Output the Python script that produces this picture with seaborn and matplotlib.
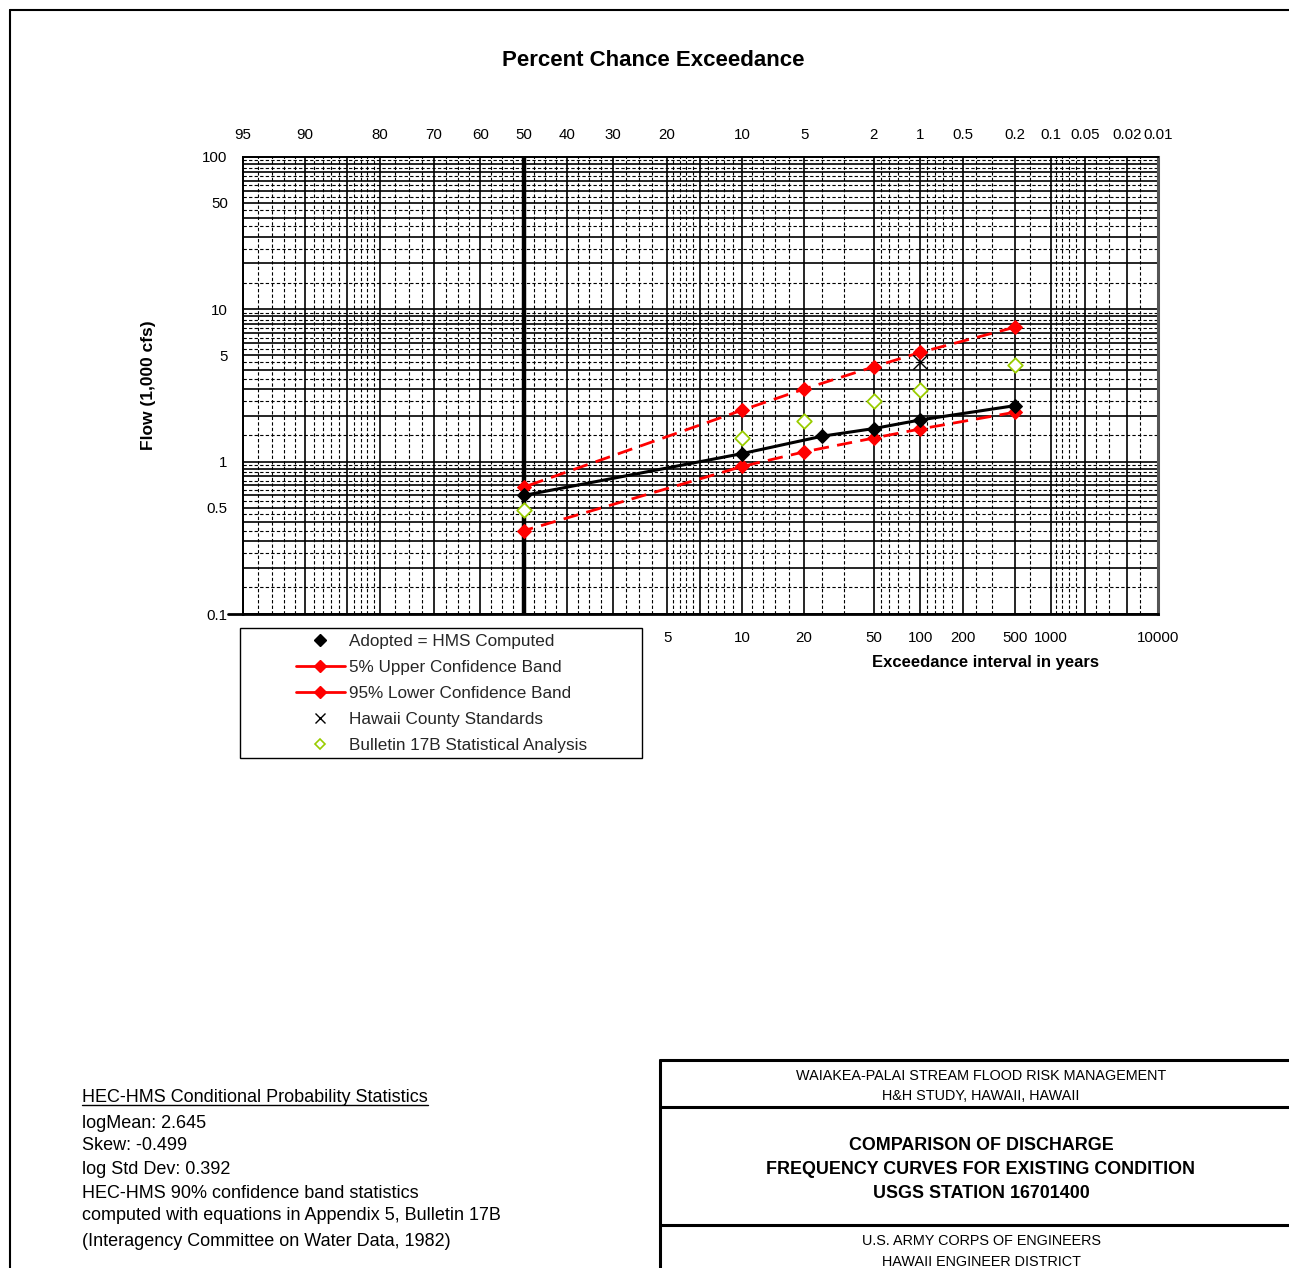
import numpy as np
import pandas as pd
import matplotlib
matplotlib.use("Agg")
import matplotlib.pyplot as plt
from matplotlib.lines import Line2D
from matplotlib.patches import Rectangle
import seaborn as sns
from statistics import NormalDist

# ---------------- data (percent chance exceedance, flow in 1,000 cfs) ----------------
adopted_pct = [50, 10, 4, 2, 1, 0.2]
adopted_flow = [0.60, 1.13, 1.47, 1.65, 1.88, 2.33]

upper_pct = [50, 10, 5, 2, 1, 0.2]
upper_flow = [0.68, 2.18, 3.00, 4.20, 5.22, 7.62]

lower_pct = [50, 10, 5, 2, 1, 0.2]
lower_flow = [0.352, 0.93, 1.16, 1.43, 1.64, 2.11]

hawaii_pct = [1]
hawaii_flow = [4.49]

b17_pct = [50, 10, 5, 2, 1, 0.2]
b17_flow = [0.482, 1.42, 1.86, 2.49, 2.96, 4.33]

top_ticks = [95, 90, 80, 70, 60, 50, 40, 30, 20, 10, 5, 2, 1, 0.5, 0.2, 0.1, 0.05, 0.02, 0.01]
top_labels = ["95", "90", "80", "70", "60", "50", "40", "30", "20", "10", "5", "2", "1",
              "0.5", "0.2", "0.1", "0.05", "0.02", "0.01"]
return_periods = [5, 10, 20, 50, 100, 200, 500, 1000, 10000]
y_ticks = [0.1, 0.5, 1, 5, 10, 50, 100]
y_labels = ["0.1", "0.5", "1", "5", "10", "50", "100"]

solid_grid_pct = [95, 90, 85, 80, 70, 60, 50, 40, 30, 20, 15, 10, 5, 2, 1, 0.5, 0.2, 0.1,
                  0.05, 0.02, 0.01]
dashed_grid_pct = [94, 93, 92, 91, 89, 88, 87, 86, 84, 83, 82, 81, 77.5, 75, 72.5, 67.5, 65,
                   62.5, 57.5, 55, 52.5, 47.5, 45, 42.5, 37.5, 35, 32.5, 27.5, 25, 22.5,
                   19, 18, 17, 16, 14, 13, 12, 11, 9, 8, 7, 6, 4, 3, 1.8, 1.6, 1.4, 1.2,
                   0.9, 0.8, 0.7, 0.6, 0.4, 0.3, 0.15, 0.09, 0.08, 0.07, 0.06, 0.04, 0.03,
                   0.015]

legend_labels = ["Adopted = HMS Computed", "5% Upper Confidence Band",
                 "95% Lower Confidence Band", "Hawaii County Standards",
                 "Bulletin 17B Statistical Analysis"]

stats_lines = ["logMean: 2.645", "Skew: -0.499", "log Std Dev: 0.392",
               "HEC-HMS 90% confidence band statistics",
               "computed with equations in Appendix 5, Bulletin 17B",
               "(Interagency Committee on Water Data, 1982)"]

# ---------------- style ----------------
sns.set_theme(style="white")
plt.rcParams["font.family"] = ["Liberation Sans", "DejaVu Sans"]

W, H = 1289, 1268
fig = plt.figure(figsize=(W / 100, H / 100), dpi=100)
fig.patch.set_facecolor("white")

ax = fig.add_axes([243 / W, 1 - 614 / H, 915 / W, 457 / H])

RED = "#FF0000"
GREEN = "#99CC00"

# ---------------- data series (drawn with seaborn) ----------------
df_ad = pd.DataFrame({"p": adopted_pct, "q": adopted_flow})
df_up = pd.DataFrame({"p": upper_pct, "q": upper_flow})
df_lo = pd.DataFrame({"p": lower_pct, "q": lower_flow})
df_hi = pd.DataFrame({"p": hawaii_pct, "q": hawaii_flow})
df_b17 = pd.DataFrame({"p": b17_pct, "q": b17_flow})

sns.lineplot(data=df_up, x="p", y="q", ax=ax, color=RED, lw=2.0,
             linestyle=(0, (5.5, 3)), marker="D", markersize=7, mec=RED, mfc=RED,
             zorder=5, legend=False)
sns.lineplot(data=df_lo, x="p", y="q", ax=ax, color=RED, lw=2.0,
             linestyle=(0, (5.5, 3)), marker="D", markersize=7, mec=RED, mfc=RED,
             zorder=5, legend=False)
sns.lineplot(data=df_ad, x="p", y="q", ax=ax, color="black", lw=2.2,
             marker="D", markersize=7, mec="black", mfc="black", zorder=6, legend=False)
sns.scatterplot(data=df_hi, x="p", y="q", ax=ax, color="black", marker="x", s=110,
                linewidth=1.0, zorder=7, legend=False)
sns.scatterplot(data=df_b17, x="p", y="q", ax=ax, marker="D", s=55, facecolor="white",
                edgecolor=GREEN, linewidth=1.3, zorder=7, legend=False)

# ---------------- scales ----------------
_nd = NormalDist()
_vinv = np.vectorize(_nd.inv_cdf, otypes=[float])
_vcdf = np.vectorize(_nd.cdf, otypes=[float])


def prob_fwd(p):
    p = np.asarray(p, dtype=float)
    q = np.clip(p / 100.0, 1e-12, 1 - 1e-12)
    return _vinv(q)


def prob_inv(z):
    z = np.asarray(z, dtype=float)
    return _vcdf(z) * 100.0


ax.set_xscale("function", functions=(prob_fwd, prob_inv))
ax.set_yscale("log")
ax.set_xlim(95, 0.01)
ax.set_ylim(0.1, 100)

# ---------------- grid ----------------
for p in dashed_grid_pct:
    ax.axvline(p, color="black", lw=0.8, ls=(0, (3, 2)), zorder=1)
for p in solid_grid_pct:
    ax.axvline(p, color="black", lw=3.2 if p == 50 else 1.2, zorder=2 if p == 50 else 1)

for d in [0.1, 1, 10]:
    for k in range(1, 10):
        ax.axhline(k * d, color="black", lw=1.2, zorder=1)
        ax.axhline((k + 0.5) * d, color="black", lw=0.8, ls=(0, (3, 2)), zorder=1)
ax.axhline(100, color="black", lw=1.2, zorder=1)

# ---------------- ticks ----------------
ax.set_xticks([100.0 / t for t in return_periods])
ax.set_xticklabels([str(t) for t in return_periods])
ax.xaxis.set_minor_locator(matplotlib.ticker.NullLocator())
ax.set_yticks(y_ticks)
ax.set_yticklabels(y_labels)
ax.yaxis.set_minor_locator(matplotlib.ticker.NullLocator())
ax.tick_params(axis="x", length=0, pad=12, labelsize=10.8, colors="black")
ax.tick_params(axis="y", length=0, pad=11, labelsize=10.8, colors="black")

ax_top = ax.twiny()
ax_top.set_xscale("function", functions=(prob_fwd, prob_inv))
ax_top.set_xlim(95, 0.01)
ax_top.set_xticks(top_ticks)
ax_top.set_xticklabels(top_labels)
ax_top.xaxis.set_minor_locator(matplotlib.ticker.NullLocator())
ax_top.tick_params(axis="x", length=0, pad=11, labelsize=10.8, colors="black")
ax_top.grid(False)

for a in (ax, ax_top):
    for s in a.spines.values():
        s.set_color("black")
        s.set_linewidth(1.3)
ax.spines["bottom"].set_linewidth(2.0)
ax.spines["right"].set_color("#555555")
ax.spines["right"].set_linewidth(2.2)
ax_top.spines["right"].set_visible(False)

ax.set_xlabel("Exceedance interval in years", fontsize=12, fontweight="bold", color="black")
ax.xaxis.set_label_coords((986 - 243) / 915, (614 - 662) / 457)
ax.xaxis.label.set_va("center")
ax.set_ylabel("Flow (1,000 cfs)", fontsize=12.5, fontweight="bold", color="black")
ax.yaxis.set_label_coords((148 - 243) / 915, (614 - 385) / 457)
ax.yaxis.label.set_va("center")

# extension of the bottom axis line to the left
fig.add_artist(Line2D([228 / W, 243 / W], [1 - 614 / H, 1 - 614 / H],
                      transform=fig.transFigure, color="black", lw=2.0))

# ---------------- title ----------------
fig.text(653 / W, 1 - 60 / H, "Percent Chance Exceedance", ha="center", va="center",
         fontsize=16, fontweight="bold", color="black")

# ---------------- legend ----------------
handles = [
    Line2D([], [], ls="none", marker="D", color="black", ms=6),
    Line2D([], [], color=RED, lw=2.0, marker="D", ms=6),
    Line2D([], [], color=RED, lw=2.0, marker="D", ms=6),
    Line2D([], [], ls="none", marker="x", color="black", ms=7, mew=1.0),
    Line2D([], [], ls="none", marker="D", mfc="white", mec=GREEN, ms=5, mew=1.2),
]
fig.legend(handles=handles, labels=legend_labels, loc="upper left",
           bbox_to_anchor=(296 / W, 1 - 634 / H), frameon=False, fontsize=12.3,
           handlelength=2.85, handletextpad=0.25, labelspacing=0.64,
           borderpad=0, borderaxespad=0)
fig.add_artist(Rectangle((240 / W, 1 - 758 / H), 402 / W, 130 / H, transform=fig.transFigure,
                         fill=False, edgecolor="black", lw=1.0))

# ---------------- outer frame ----------------
fig.add_artist(Line2D([10 / W, 10 / W], [0, 1 - 10 / H], transform=fig.transFigure,
                      color="black", lw=1.5))
fig.add_artist(Line2D([10 / W, 1], [1 - 10 / H, 1 - 10 / H], transform=fig.transFigure,
                      color="black", lw=1.5))

# ---------------- statistics text ----------------
hdr = fig.text(82 / W, 1 - 1098 / H, "HEC-HMS Conditional Probability Statistics",
               ha="left", va="center", fontsize=13, color="black")
ys = [1123, 1146, 1170, 1194, 1216, 1241]
for yy, s in zip(ys, stats_lines):
    fig.text(82 / W, 1 - yy / H, s, ha="left", va="center", fontsize=13, color="black")

# ---------------- title block ----------------
tb_lines = [
    ([660, W], [1060, 1060]),
    ([660, 660], [1060, H]),
    ([660, W], [1107, 1107]),
    ([660, W], [1225, 1225]),
]
for xs, yv in tb_lines:
    fig.add_artist(Line2D([x / W for x in xs], [1 - y / H for y in yv],
                          transform=fig.transFigure, color="black", lw=2.2))

small = [(1076, "WAIAKEA-PALAI STREAM FLOOD RISK MANAGEMENT"),
         (1096, "H&H STUDY, HAWAII, HAWAII"),
         (1241, "U.S. ARMY CORPS OF ENGINEERS"),
         (1262, "HAWAII ENGINEER DISTRICT")]
for yy, s in small:
    fig.text(981 / W, 1 - yy / H, s, ha="center", va="center", fontsize=10.4,
             color="black")
big = [(1146, "COMPARISON OF DISCHARGE"),
       (1169, "FREQUENCY CURVES FOR EXISTING CONDITION"),
       (1193, "USGS STATION 16701400")]
for yy, s in big:
    fig.text(981 / W, 1 - yy / H, s, ha="center", va="center", fontsize=12.9,
             fontweight="bold", color="black")

fig.canvas.draw()
bb = hdr.get_window_extent()
fig.add_artist(Line2D([bb.x0 / W, bb.x1 / W], [1 - 1105 / H, 1 - 1105 / H],
                      transform=fig.transFigure, color="black", lw=1.0))

fig.savefig("out.png", dpi=100, facecolor="white")
